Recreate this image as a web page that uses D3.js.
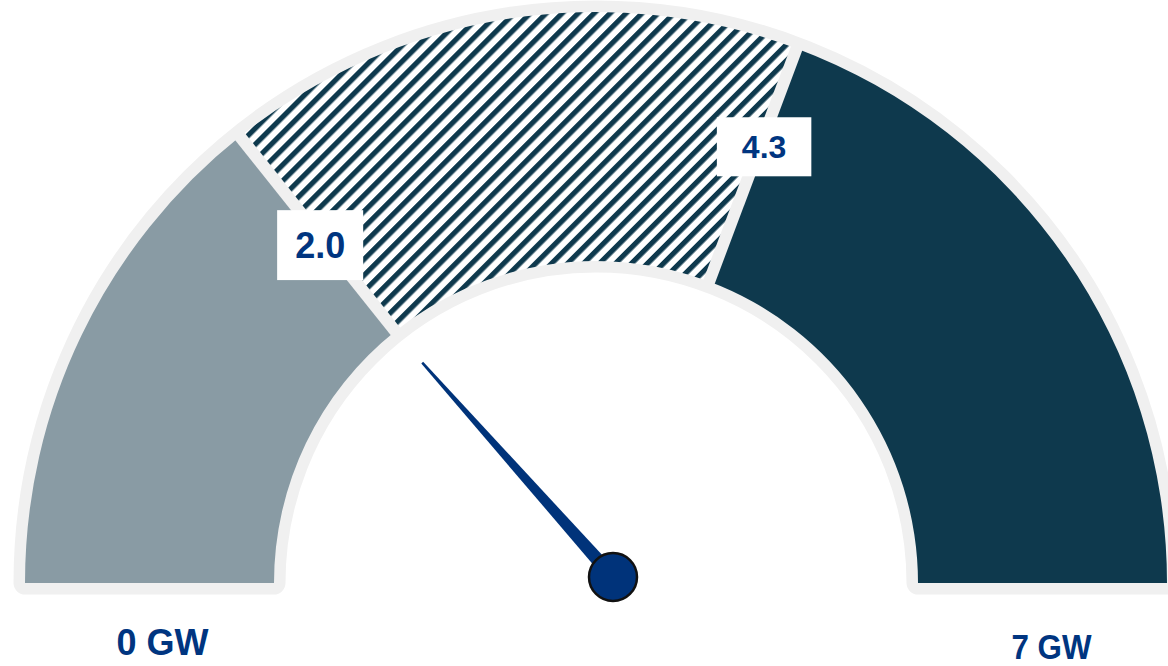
<!DOCTYPE html>
<html><head><meta charset="utf-8">
<script src="https://cdn.jsdelivr.net/npm/d3@7"></script>
<style>html,body{margin:0;padding:0;background:#fff;} svg{display:block;}</style>
</head><body><svg id="chart" width="1168" height="666"></svg>
<script>
// ---- data ----
const scaleDomain = [0, 7];
const bandStarts = [0, 2.0, 4.3];
const bandEnds = [2.0, 4.3, 7];
const thresholdValues = [2.0, 4.3];
const thresholdLabels = ["2.0", "4.3"];
const endValues = [0, 7];
const endLabels = ["0 GW", "7 GW"];
const needleValue = 1.88;

// ---- styles / layout ----
const W = 1168, H = 666;
const cx = 596, cy = 583, rOut = 571, rIn = 322;
const bandStyles = ["#899ba4", "url(#hatch)", "#0e394d"];
const borderColor = "#f0f0f0";
const textColor = "#003580";
const labelLayout = [
  {r: 436, size: 36, padX: 18, padY: 22, dx: -4, dy: 3},
  {r: 467, size: 32, padX: 25, padY: 18, dx: 4, dy: 1}
];
const endLayout = [{dx: 13, y: 655, size: 36, len: 92}, {dx: 9, y: 659, size: 35, len: 80}];
const pivot = {dx: 17, dy: -6, r: 24};
const needleLen = 287, needleBase = 14, needleTip = 2.5;

const svg = d3.select("#chart");
const defs = svg.append("defs");
const P = 11.3;
const pat = defs.append("pattern").attr("id", "hatch")
  .attr("patternUnits", "userSpaceOnUse").attr("width", P).attr("height", P)
  .attr("patternTransform", "rotate(45)");
pat.append("rect").attr("width", P).attr("height", P).attr("fill", "#fff");
pat.append("rect").attr("width", 5.2).attr("height", P).attr("fill", "#0e394d");

const angle = d3.scaleLinear().domain(scaleDomain).range([-Math.PI / 2, Math.PI / 2]);
const arc = d3.arc();
const g = svg.append("g").attr("transform", `translate(${cx},${cy})`);

// gray base
g.append("path")
  .attr("d", arc({innerRadius: rIn, outerRadius: rOut, startAngle: angle(scaleDomain[0]), endAngle: angle(scaleDomain[1])}))
  .attr("fill", borderColor).attr("stroke", borderColor)
  .attr("stroke-width", 23).attr("stroke-linejoin", "round");

// bands
g.selectAll("path.band").data(bandStarts.map((s, i) => ({s, e: bandEnds[i], i})))
  .join("path").attr("class", "band")
  .attr("d", d => arc({innerRadius: rIn, outerRadius: rOut, startAngle: angle(d.s), endAngle: angle(d.e)}))
  .attr("fill", d => bandStyles[d.i]);

// gaps
g.selectAll("line.gap").data(thresholdValues).join("line").attr("class", "gap")
  .attr("x1", v => Math.sin(angle(v)) * (rIn - 3)).attr("y1", v => -Math.cos(angle(v)) * (rIn - 3))
  .attr("x2", v => Math.sin(angle(v)) * (rOut + 3)).attr("y2", v => -Math.cos(angle(v)) * (rOut + 3))
  .attr("stroke", borderColor).attr("stroke-width", 12);

// threshold labels
thresholdValues.forEach((v, i) => {
  const L = labelLayout[i];
  const x = Math.sin(angle(v)) * L.r + L.dx, y = -Math.cos(angle(v)) * L.r + L.dy;
  const lg = g.append("g").attr("transform", `translate(${x},${y})`);
  const rect = lg.append("rect").attr("fill", "#fff");
  const t = lg.append("text").text(thresholdLabels[i])
    .attr("text-anchor", "middle").attr("dy", "0.36em")
    .attr("font-family", "'Liberation Sans', Arial, sans-serif").attr("font-weight", "bold")
    .attr("font-size", L.size).attr("fill", textColor);
  const bb = t.node().getBBox();
  const tw = bb.width, th = L.size * 0.72;
  rect.attr("x", -tw / 2 - L.padX).attr("y", -th / 2 - L.padY)
    .attr("width", tw + 2 * L.padX).attr("height", th + 2 * L.padY);
});

// end labels
endValues.forEach((v, i) => {
  const E = endLayout[i];
  const x = Math.sin(angle(v)) * (rIn + rOut) / 2 + E.dx;
  g.append("text").text(endLabels[i])
    .attr("x", x).attr("y", E.y - cy)
    .attr("text-anchor", "middle")
    .attr("font-family", "'Liberation Sans', Arial, sans-serif").attr("font-weight", "bold")
    .attr("font-size", E.size).attr("fill", textColor)
    .attr("textLength", E.len).attr("lengthAdjust", "spacingAndGlyphs");
});

// needle
const px = pivot.dx, py = pivot.dy;
const a = angle(needleValue);
const ux = Math.sin(a), uy = -Math.cos(a);
const nx = -uy, ny = ux;
const tipX = px + ux * needleLen, tipY = py + uy * needleLen;
g.append("path")
  .attr("d", `M${px + nx * needleBase / 2},${py + ny * needleBase / 2}
    L${tipX + nx * needleTip / 2},${tipY + ny * needleTip / 2}
    L${tipX - nx * needleTip / 2},${tipY - ny * needleTip / 2}
    L${px - nx * needleBase / 2},${py - ny * needleBase / 2}Z`)
  .attr("fill", "#00337a");
g.append("circle").attr("cx", px).attr("cy", py).attr("r", pivot.r)
  .attr("fill", "#00337a").attr("stroke", "#111").attr("stroke-width", 2.5);
</script>
</body></html>
